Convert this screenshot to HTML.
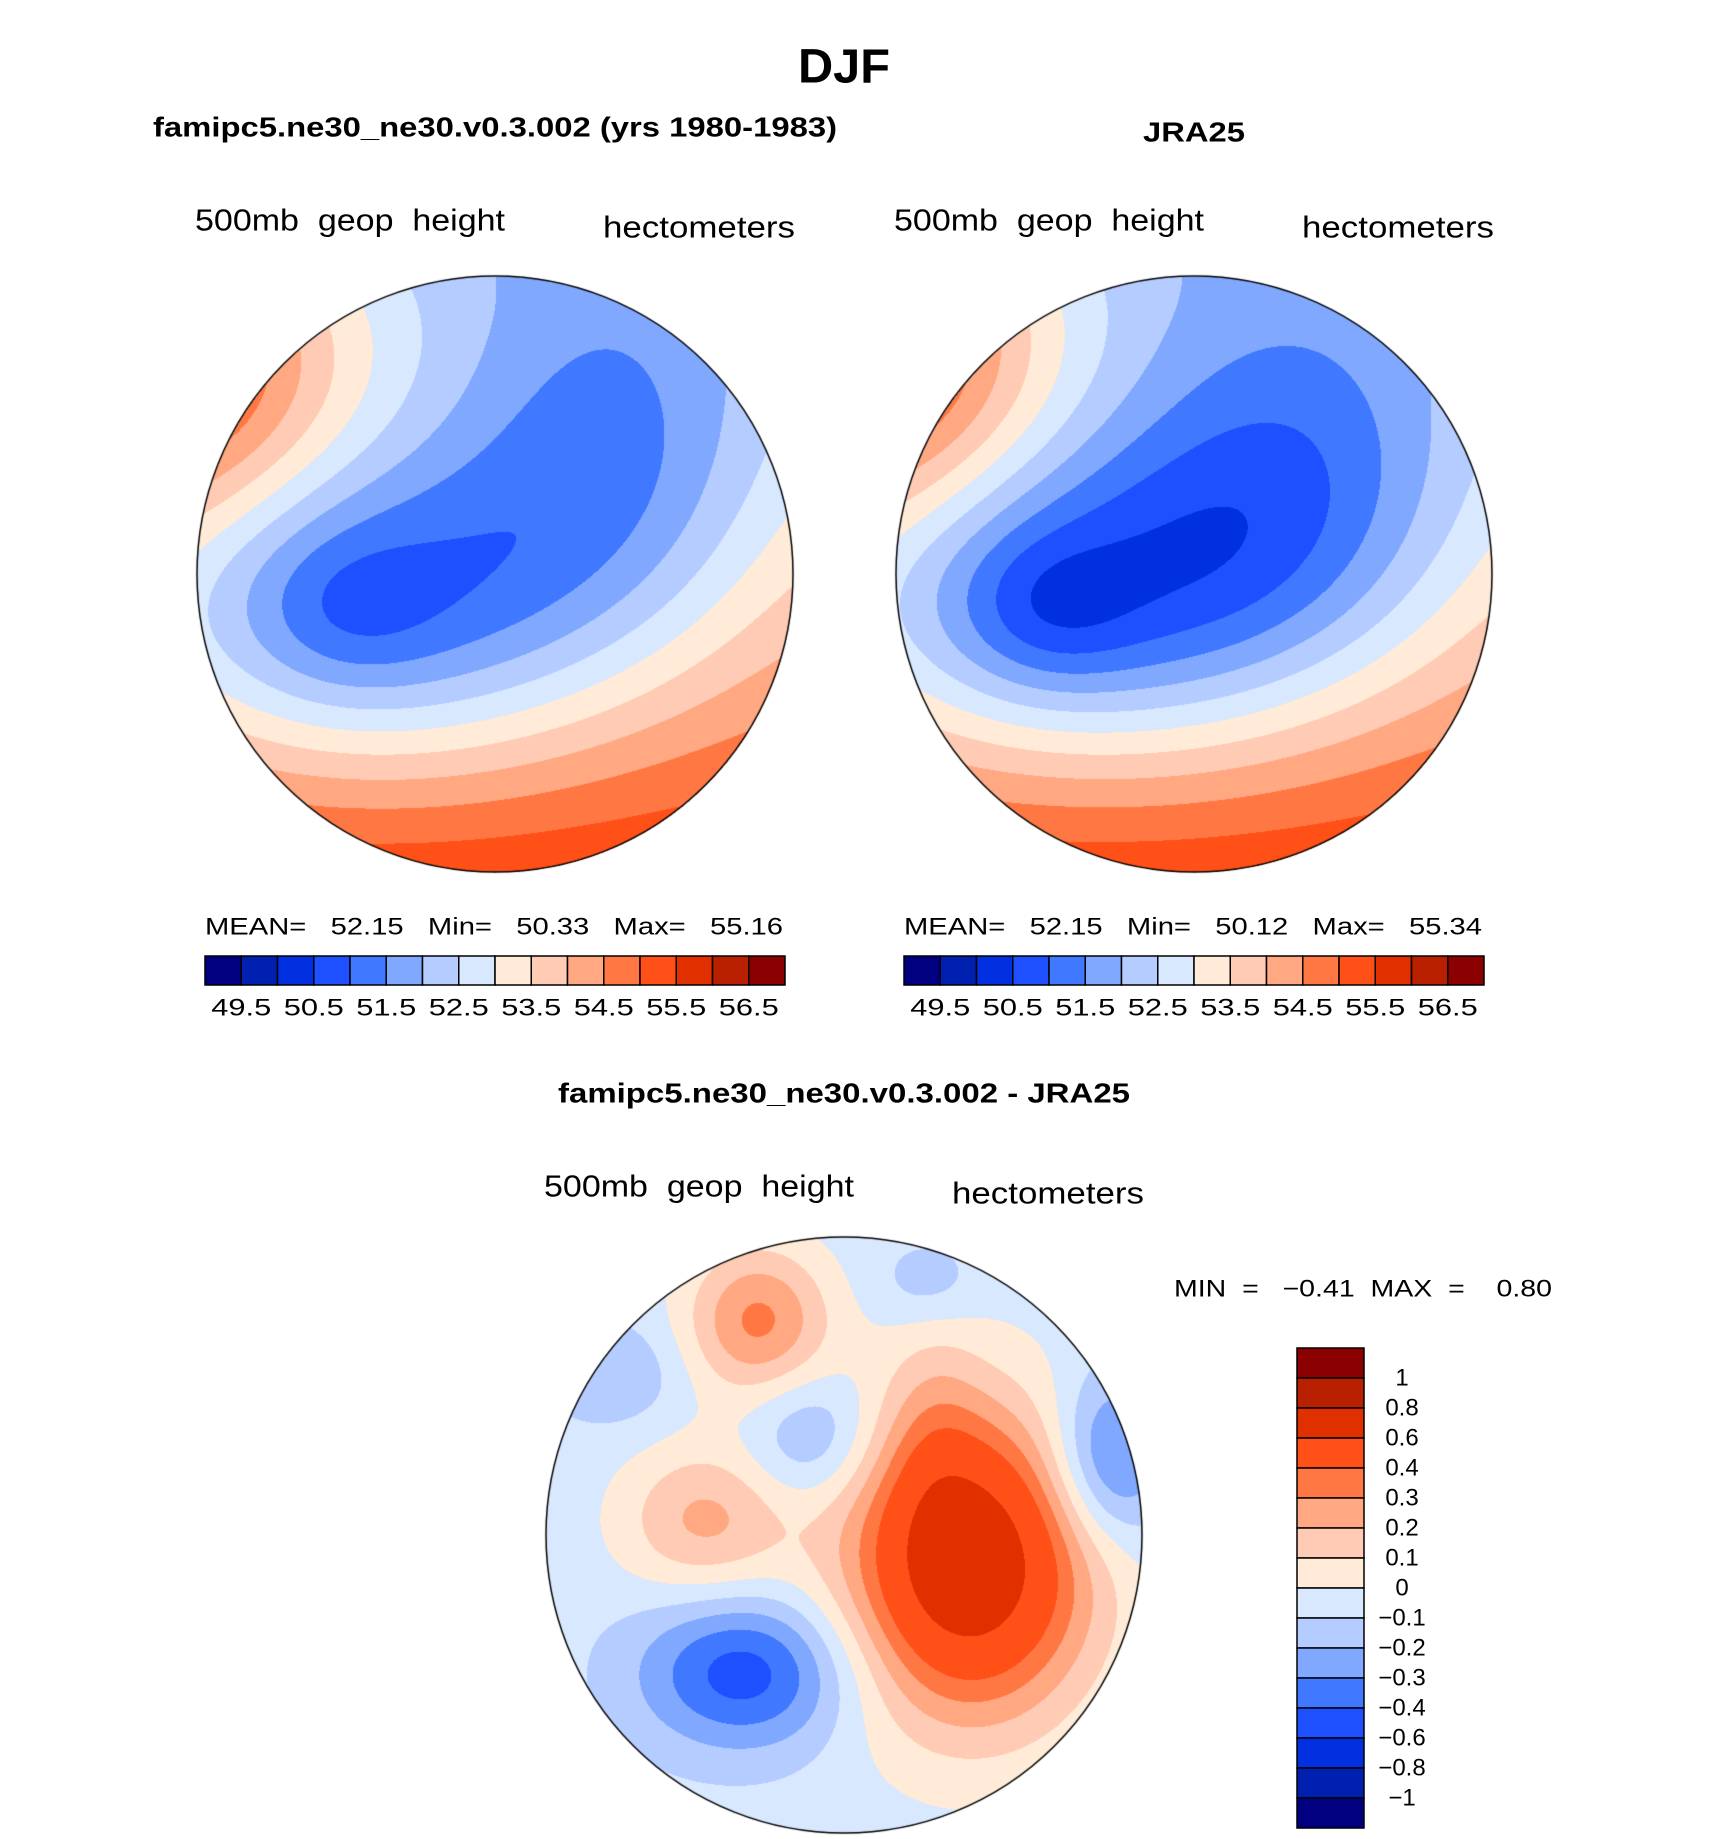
<!DOCTYPE html>
<html><head><meta charset="utf-8"><style>
html,body{margin:0;padding:0;background:#fff;}
#root{position:relative;width:1710px;height:1839px;overflow:hidden;}
canvas{position:absolute;}
svg{position:absolute;left:0;top:0;}
text{white-space:pre;}
</style></head><body>
<div id="root">
<canvas id="mapL" width="600" height="600" style="left:195px;top:274px"></canvas>
<canvas id="mapR" width="600" height="600" style="left:894px;top:274px"></canvas>
<canvas id="mapD" width="600" height="600" style="left:544px;top:1235px"></canvas>
<svg id="ov" width="1710" height="1839" font-family="Liberation Sans, sans-serif" xml:space="preserve"></svg>
</div>
<script>
// ---- data ----
const mainLevels=[49.5,50,50.5,51,51.5,52,52.5,53,53.5,54,54.5,55,55.5,56,56.5];
const mainTickLabels=["49.5","50.5","51.5","52.5","53.5","54.5","55.5","56.5"];
const diffLevels=[-1,-0.8,-0.6,-0.4,-0.3,-0.2,-0.1,0,0.1,0.2,0.3,0.4,0.6,0.8,1];
const diffTickLabels=["\u22121","\u22120.8","\u22120.6","\u22120.4","\u22120.3","\u22120.2","\u22120.1","0","0.1","0.2","0.3","0.4","0.6","0.8","1"];
const palette=["#000080","#0020b0","#0030e0","#1e50ff","#4078ff","#80a8ff","#b4ccff","#d8e8ff","#ffebd8","#ffcbb4","#ffa882","#ff7844","#ff5018","#e03000","#b82000","#8b0000"];
// field bumps: centers (normalized disc coords), amplitudes, sigmas
const modelBase=[54.0,0.0,1.6];
const modelBx=[-0.4,0.4,-1.1,-0.5];
const modelBy=[0.12,-0.4,-0.7,0.12];
const modelAmp=[-3.0,-1.6,2.8,-0.45];
const modelSx=[0.62,0.4,0.4,0.2];
const modelSy=[0.4,0.45,0.4,0.18];
const jraBase=[54.0,0.0,1.6];
const jraBx=[-0.35,0.35,-1.1,-0.5];
const jraBy=[0.1,-0.35,-0.75,0.12];
const jraAmp=[-3.1,-1.7,3.0,-0.7];
const jraSx=[0.65,0.45,0.4,0.2];
const jraSy=[0.4,0.45,0.4,0.18];
const diffBase=[-0.06,0,0];
const diffBx=[-0.29,0.42,0.3,-0.33,-0.11,-0.47,0.89,0.28,-0.77];
const diffBy=[-0.72,0.1,-0.35,0.46,-0.33,-0.05,-0.25,-0.85,-0.54];
const diffAmp=[0.38,0.82,0.12,-0.4,-0.2,0.28,-0.35,-0.12,-0.14];
const diffSx=[0.17,0.29,0.12,0.25,0.15,0.2,0.14,0.12,0.15];
const diffSy=[0.18,0.36,0.3,0.18,0.15,0.18,0.2,0.1,0.12];

function draw(id,base,bx,by,amp,sx,sy,levels){
  const cv=document.getElementById(id),ctx=cv.getContext('2d');
  const W=600,R=298,cx=300,cy=300;const img=ctx.createImageData(W,W);
  const pal=palette.map(c=>[parseInt(c.substr(1,2),16),parseInt(c.substr(3,2),16),parseInt(c.substr(5,2),16)]);
  for(let y=0;y<W;y++)for(let x=0;x<W;x++){
    const u=(x-cx)/R,v=(y-cy)/R;if(u*u+v*v>1)continue;
    let f=base[0]+base[1]*u+base[2]*v;
    for(let k=0;k<bx.length;k++){const dx=u-bx[k],dy=v-by[k];f+=amp[k]*Math.exp(-(dx*dx/(2*sx[k]*sx[k])+dy*dy/(2*sy[k]*sy[k])));}
    let i=0;while(i<levels.length&&f>=levels[i])i++;
    const c=pal[i],p=(y*W+x)*4;img.data[p]=c[0];img.data[p+1]=c[1];img.data[p+2]=c[2];img.data[p+3]=255;}
  ctx.putImageData(img,0,0);
  ctx.beginPath();ctx.arc(cx,cy,R,0,Math.PI*2);ctx.lineWidth=1.5;ctx.strokeStyle='#000';ctx.stroke();
}
draw('mapL',modelBase,modelBx,modelBy,modelAmp,modelSx,modelSy,mainLevels);
draw('mapR',jraBase,jraBx,jraBy,jraAmp,jraSx,jraSy,mainLevels);
draw('mapD',diffBase,diffBx,diffBy,diffAmp,diffSx,diffSy,diffLevels);

const NS='http://www.w3.org/2000/svg',ov=document.getElementById('ov');
function txt(x,y,s,size,opts){const t=document.createElementNS(NS,'text');t.setAttribute('x',x);t.setAttribute('y',y);
  t.setAttribute('font-size',size);t.setAttribute('dominant-baseline','central');t.setAttribute('text-anchor',opts.anchor||'start');
  t.setAttributeNS('http://www.w3.org/XML/1998/namespace','xml:space','preserve');
  if(opts.bold)t.setAttribute('font-weight','bold');if(opts.len){t.setAttribute('textLength',opts.len);t.setAttribute('lengthAdjust','spacingAndGlyphs');}
  t.textContent=s;ov.appendChild(t);return t;}
function rect(x,y,w,h,fill,name){const r=document.createElementNS(NS,'rect');r.setAttribute('x',x);r.setAttribute('y',y);r.setAttribute('width',w);r.setAttribute('height',h);
  r.setAttribute('fill',fill);r.setAttribute('stroke','#000');r.setAttribute('stroke-width','1.5');
  ov.appendChild(r);}

txt(844,67,"DJF",48,{anchor:'middle',bold:1,name:'main-title',len:92});
txt(495,127,"famipc5.ne30_ne30.v0.3.002 (yrs 1980-1983)",28,{anchor:'middle',bold:1,name:'model-title',len:684});
txt(1194,132,"JRA25",28,{anchor:'middle',bold:1,name:'jra25-title',len:102});
txt(844,1093,"famipc5.ne30_ne30.v0.3.002 - JRA25",28,{anchor:'middle',bold:1,name:'difference-title',len:572});
[[195,603],[894,1302],[544,952]].forEach((p,i)=>{
  const yo=i==2?1186:220;
  txt(p[0],yo,"500mb  geop  height",31,{name:'variable-label',len:310});
  txt(p[1],yo+7,"hectometers",31,{name:'units-label',len:192});
});
// horizontal colorbars
[[205,"52.15","50.33","55.16"],[904,"52.15","50.12","55.34"]].forEach((c,j)=>{
  const x0=c[0],bw=580/16;
  txt(x0,927,"MEAN=   "+c[1]+"   Min=   "+c[2]+"   Max=   "+c[3],24,{name:'stats-label',len:578});
  palette.forEach((col,i)=>rect(x0+i*bw,956,bw,29,col,'colorbar-box'));
  mainTickLabels.forEach((s,k)=>txt(x0+bw*(2*k+1),1008,s,24,{anchor:'middle',name:'colorbar-tick',len:60}));
});
// vertical colorbar
txt(1174,1289,"MIN  =   \u22120.41  MAX  =    0.80",24,{name:'diff-stats-label',len:378});
const vbh=30;
palette.slice().reverse().forEach((col,i)=>rect(1297,1348+i*vbh,67,vbh,col,'diff-colorbar-box'));
diffTickLabels.slice().reverse().forEach((s,k)=>txt(1402,1348+vbh*(k+1),s,24,{anchor:'middle',name:'diff-colorbar-tick'}));
</script>
</body></html>
